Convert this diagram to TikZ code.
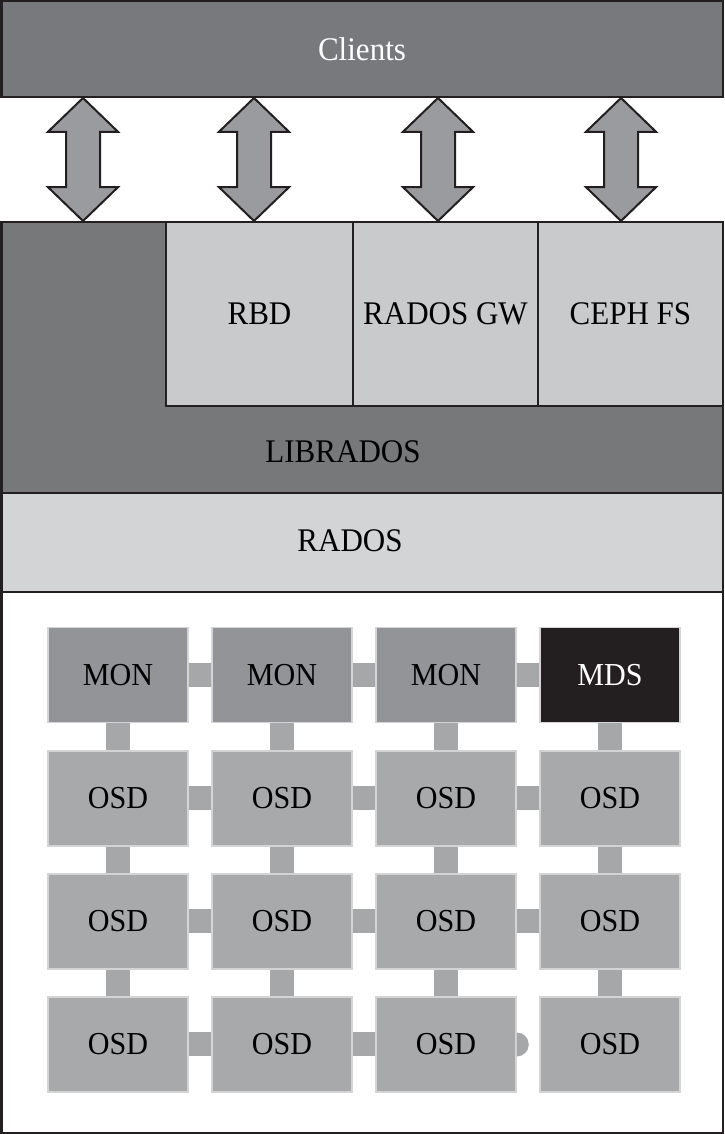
\documentclass[tikz,border=0pt]{standalone}
\usepackage{fontspec}
\setmainfont[FakeStretch=0.94]{Liberation Serif}
\usetikzlibrary{shapes.arrows}
\definecolor{clientgray}{HTML}{78797C}
\definecolor{libgray}{HTML}{77787A}
\definecolor{apigray}{HTML}{C9CACC}
\definecolor{radosgray}{HTML}{D3D4D6}
\definecolor{mongray}{HTML}{939497}
\definecolor{osdgray}{HTML}{A8A9AB}
\definecolor{mdsblack}{HTML}{231F20}
\definecolor{linkgray}{HTML}{A6A7A9}
\definecolor{edgegray}{HTML}{D4D4D4}
\definecolor{arrowgray}{HTML}{9A9B9E}

\begin{document}
\begin{tikzpicture}[x=1pt, y=1pt,
  layer/.style={rectangle, draw=mdsblack, line width=2.5pt, fill=#1, inner sep=0pt,
                font=\fontsize{33pt}{37pt}\selectfont},
  unit/.style={rectangle, draw=edgegray, line width=1.5pt, fill=#1, inner sep=0pt,
               minimum width=140pt, minimum height=95pt, font=\fontsize{32pt}{36pt}\selectfont},
  fatarr/.style={double arrow, draw=mdsblack, fill=arrowgray, line width=2pt,
                 shape border rotate=90, minimum height=123pt, minimum width=68pt,
                 double arrow head extend=18pt, double arrow tip angle=92, inner sep=16pt},
  link/.style={linkgray, line width=24pt}
]
\useasboundingbox (0,0) rectangle (724,1134);
% layers
\node[layer=clientgray, text=white, minimum width=721.5pt, minimum height=95.75pt] (clients) at (362,1084.9) {Clients};
\node[layer=libgray,    minimum width=721.5pt, minimum height=271pt]   (librados) at (362,776.5) {};
\node[layer=apigray,    minimum width=187pt,   minimum height=184pt]   (rbd)      at (259.5,820) {RBD};
\node[layer=apigray,    minimum width=185pt,   minimum height=184pt]   (radosgw)  at (445.5,820) {RADOS GW};
\node[layer=apigray,    minimum width=184.75pt,minimum height=184pt]   (cephfs)   at (630.4,820) {CEPH FS};
\node[font=\fontsize{33pt}{37pt}\selectfont] (libtext) at (343,682) {LIBRADOS};
\node[layer=radosgray,  minimum width=721.5pt, minimum height=99pt]    (rados)    at (362,591.5) {};
\node[font=\fontsize{33pt}{37pt}\selectfont] (radostext) at (350,593) {RADOS};
\node[layer=white,      minimum width=721.5pt, minimum height=540.75pt] (cluster) at (362,271.6) {};
% client arrows
\foreach \ax in {83,254,438,621}
  \node[fatarr] (arr\ax) at (\ax,974.5) {};
% cluster
\node[unit=mongray]               (g-1-1) at (118,459) {MON};
\node[unit=mongray]               (g-1-2) at (282,459) {MON};
\node[unit=mongray]               (g-1-3) at (446,459) {MON};
\node[unit=mdsblack, text=white]  (g-1-4) at (610,459) {MDS};
\foreach \r/\y in {2/335.5, 3/212.5, 4/89.5}
  \foreach \c/\x in {1/118, 2/282, 3/446, 4/610}
    \node[unit=osdgray] (g-\r-\c) at (\x,\y) {OSD};
\foreach \r in {1,2,3}
  \foreach \c/\n in {1/2, 2/3, 3/4}
    \draw[link] (g-\r-\c.east) -- (g-\r-\n.west);
\foreach \c/\n in {1/2, 2/3}
  \draw[link] (g-4-\c.east) -- (g-4-\n.west);
\fill[linkgray] (g-4-3.east) ++(0,12) arc[start angle=90, end angle=-90, radius=12pt] -- cycle;
\foreach \c in {1,...,4}
  \foreach \r/\n in {1/2, 2/3, 3/4}
    \draw[link] (g-\r-\c.south) -- (g-\n-\c.north);
\end{tikzpicture}
\end{document}
